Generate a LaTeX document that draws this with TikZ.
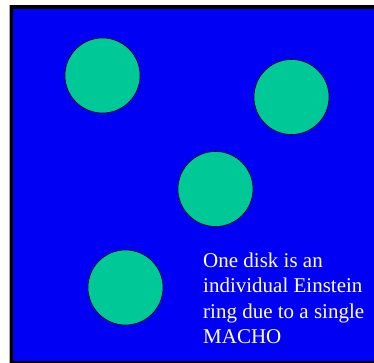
\documentclass[tikz,border=0pt]{standalone}
\usepackage{fontspec}
\setmainfont{Liberation Serif}
\definecolor{bgblue}{RGB}{0,0,245}
\definecolor{disk}{RGB}{0,200,150}
\definecolor{edgegrey}{RGB}{170,170,170}
\tikzset{
  disknode/.style={circle, draw=black, line width=0.6pt, fill=disk, minimum size=75pt, inner sep=0pt},
  label/.style={anchor=base west, inner sep=0pt, text=white, font=\fontsize{21}{25}\selectfont}
}
\begin{document}
\begin{tikzpicture}[x=1pt,y=-1pt]
\useasboundingbox (0,0) rectangle (374,363);
\begin{scope}
\clip (0,0) rectangle (374,363);
\fill[white] (0,0) rectangle (374,363);
\draw[edgegrey, line width=0.8pt] (9,400) -- (9,5) -- (400,5);
\fill[black] (9.5,5.5) rectangle (400,400);
\fill[bgblue] (13,9.5) rectangle (400,360.7);
\end{scope}
\node[disknode] (d1) at (102.5,75.5) {};
\node[disknode] (d2) at (291.5,97) {};
\node[disknode] (d3) at (215.5,189) {};
\node[disknode] (d4) at (125.5,287.5) {};
\node[label] (t1) at (203,267) {One disk is an};
\node[label] (t2) at (203,292.8) {individual Einstein};
\node[label] (t3) at (203,318.2) {ring due to a single};
\node[label] (t4) at (203,343.5) {MACHO};
\end{tikzpicture}
\end{document}
